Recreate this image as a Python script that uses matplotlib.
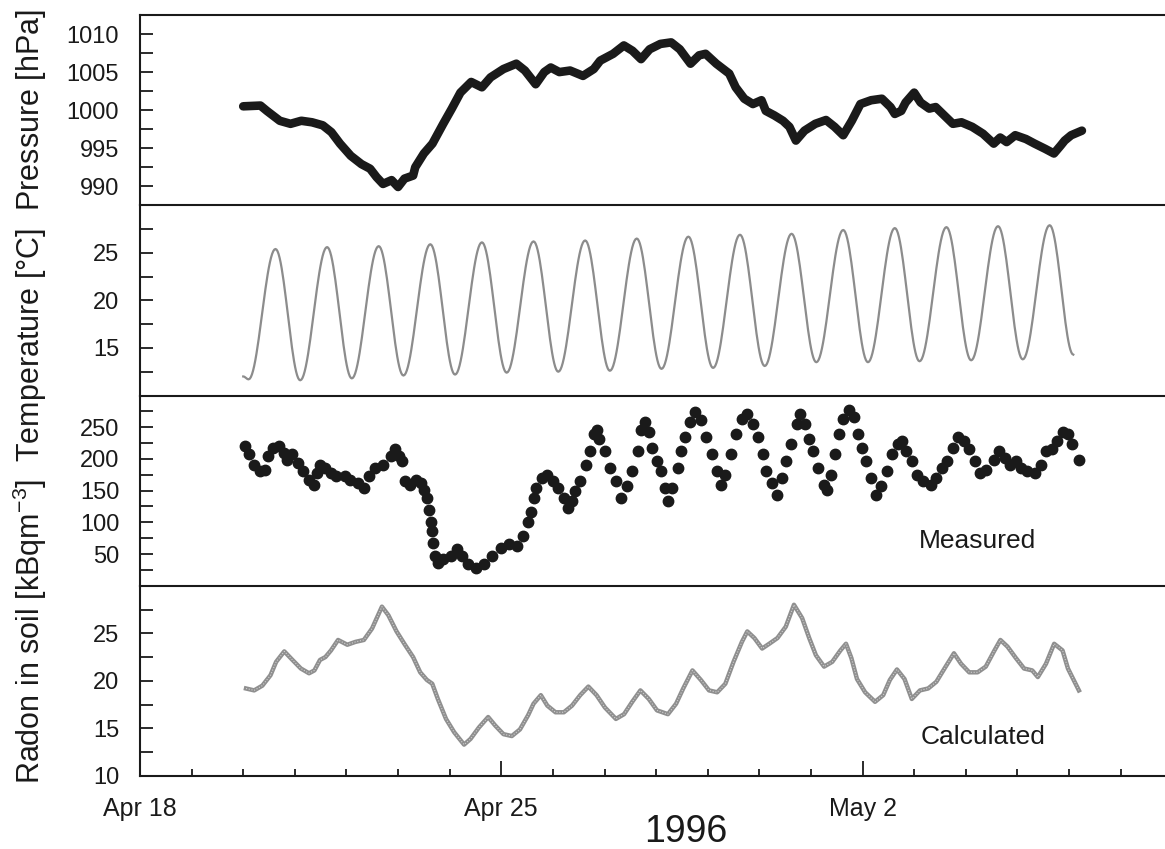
import numpy as np
import pandas as pd
import matplotlib
matplotlib.use("Agg")
import matplotlib.pyplot as plt
from matplotlib.ticker import MultipleLocator, FixedLocator

plt.rcParams['font.family'] = ['Liberation Sans', 'DejaVu Sans']
plt.rcParams['mathtext.fontset'] = 'custom'
plt.rcParams['mathtext.rm'] = 'Liberation Sans'
plt.rcParams['mathtext.it'] = 'Liberation Sans:italic'

INK = '#1a1a1a'
GREY = '#8c8c8c'

START = pd.Timestamp('1996-04-20')   # all series are given in hours after this

# air pressure [hPa]
pressure_hours = [0, 8, 11, 17, 22, 27, 32, 37, 41, 45, 50, 55, 59, 62, 65, 69, 72, 75, 79, 80,
                  84, 88, 93, 97, 101, 106, 111, 115, 121, 127, 131, 136, 140, 143, 147, 152, 158, 163, 166, 172,
                  177, 181, 185, 189, 194, 199, 203, 208, 212, 215, 220, 226, 229, 233, 237, 241, 243, 247, 251, 254,
                  257, 261, 266, 271, 275, 279, 283, 287, 292, 297, 301, 303, 306, 308, 312, 315, 319, 322, 326, 330,
                  334, 339, 344, 349, 352, 355, 359, 364, 368, 373, 377, 380, 382, 385, 390]
pressure_hpa = [1000.5, 1000.6, 999.9, 998.6, 998.2, 998.6, 998.4, 998.0, 997.1, 995.6,
                994.0, 992.9, 992.3, 991.2, 990.3, 990.8, 989.9, 991.0, 991.4, 992.5,
                994.3, 995.6, 998.2, 1000.2, 1002.3, 1003.7, 1003.0, 1004.3, 1005.4, 1006.1,
                1005.2, 1003.4, 1005.0, 1005.6, 1005.0, 1005.2, 1004.5, 1005.4, 1006.5, 1007.4,
                1008.5, 1007.8, 1006.7, 1008.0, 1008.7, 1008.9, 1008.0, 1006.1, 1007.2, 1007.4,
                1006.1, 1004.8, 1003.0, 1001.5, 1000.8, 1001.3, 999.9, 999.3, 998.6, 997.8,
                996.0, 997.3, 998.2, 998.7, 997.8, 996.7, 998.6, 1000.8, 1001.3, 1001.5,
                1000.4, 999.5, 999.9, 1001.0, 1002.3, 1001.0, 1000.2, 1000.4, 999.3, 998.2,
                998.4, 997.8, 996.9, 995.6, 996.4, 995.8, 996.7, 996.2, 995.6, 994.9,
                994.3, 995.3, 996.0, 996.7, 997.3]

# daily temperature extremes [°C]: minima around 02:30, maxima around 15:00
temp_low = [11.7, 11.6, 11.8, 12.1, 12.2, 12.4, 12.5, 12.6, 12.8, 12.9, 13.1, 13.5, 13.5, 13.6, 13.7, 13.8]
temp_high = [25.4, 25.6, 25.7, 25.9, 26.1, 26.2, 26.3, 26.5, 26.7, 26.9, 27.0, 27.4, 27.6, 27.7, 27.8, 27.9]
temp_first = (0.0, 12.0)
temp_last = (386.0, 14.3)

# measured radon in soil gas [kBq/m3]
radon_hours = [0.8, 2.5, 5.1, 7.6, 10.2, 11.5, 14.0, 16.6, 19.1, 20.4,
               22.9, 25.5, 28.0, 30.6, 33.1, 34.4, 35.7, 38.2, 40.8, 43.3,
               47.1, 49.7, 53.5, 56.1, 58.6, 61.2, 65.0, 68.8, 70.6, 72.6,
               73.9, 75.2, 77.7, 80.3, 82.8, 84.1, 85.4, 86.6, 87.4, 87.9,
               88.4, 89.2, 90.5, 93.0, 96.8, 99.4, 101.9, 104.5, 108.3, 112.1,
               115.9, 119.8, 123.6, 127.4, 129.9, 132.5, 133.8, 135.0, 136.3, 138.9,
               141.4, 144.0, 146.5, 149.1, 151.1, 152.9, 154.2, 156.7, 159.3, 161.3,
               163.1, 164.3, 165.6, 168.2, 170.7, 173.3, 175.8, 178.4, 180.9, 183.5,
               185.2, 186.8, 188.6, 190.3, 192.4, 194.4, 196.2, 197.5, 199.5, 202.1,
               203.8, 205.6, 207.7, 210.2, 212.8, 215.3, 217.9, 220.4, 222.4, 224.2,
               226.8, 229.3, 231.9, 234.4, 237.0, 239.5, 241.6, 243.3, 245.9, 248.4,
               250.5, 252.3, 254.8, 257.3, 259.1, 261.2, 263.2, 265.0, 267.5, 270.1,
               271.4, 273.4, 275.2, 277.0, 279.0, 281.6, 284.1, 286.1, 287.9, 289.7,
               291.7, 294.3, 296.8, 299.4, 301.9, 304.5, 306.5, 308.3, 310.9, 313.4,
               316.0, 319.8, 322.3, 324.9, 327.4, 330.0, 332.5, 335.1, 337.6, 340.2,
               342.7, 345.3, 349.1, 351.6, 354.2, 356.7, 359.3, 361.8, 364.4, 368.2,
               370.8, 373.3, 375.9, 378.4, 381.0, 383.5, 385.6, 388.6]
radon_kbq = [221, 207, 191, 181, 183, 205, 218, 221, 210, 199,
             207, 194, 181, 167, 159, 178, 191, 186, 178, 173,
             173, 167, 162, 154, 173, 186, 191, 205, 215, 205,
             197, 165, 159, 167, 162, 151, 138, 119, 101, 87,
             68, 47, 36, 42, 47, 58, 47, 34, 28, 34,
             47, 60, 66, 63, 79, 101, 117, 138, 154, 170,
             175, 165, 154, 138, 122, 133, 149, 165, 191, 213,
             239, 245, 231, 213, 186, 165, 138, 157, 181, 213,
             245, 258, 242, 218, 197, 181, 154, 133, 154, 186,
             213, 234, 258, 274, 261, 234, 207, 181, 159, 175,
             207, 239, 263, 271, 255, 234, 207, 181, 162, 143,
             170, 197, 223, 255, 271, 255, 231, 213, 186, 159,
             151, 175, 207, 239, 263, 277, 266, 239, 218, 197,
             170, 143, 157, 181, 207, 223, 229, 213, 197, 175,
             165, 159, 170, 186, 197, 218, 234, 229, 215, 197,
             178, 183, 199, 213, 202, 191, 197, 186, 181, 178,
             191, 213, 215, 229, 242, 239, 223, 199]

# model result [kBq/m3]
calc_hours = [1.3, 5.1, 8.9, 12.7, 15.3, 19.1, 22.9, 26.8, 30.6, 33.1,
              35.7, 38.2, 40.8, 44.1, 48.4, 52.2, 56.1, 59.9, 64.5, 67.5,
              71.3, 75.2, 79.0, 82.3, 85.4, 87.9, 90.5, 94.3, 98.1, 102.7,
              105.7, 109.6, 113.9, 117.2, 121.0, 124.9, 128.7, 132.5, 135.0, 138.4,
              141.4, 145.2, 149.1, 152.9, 156.7, 160.5, 164.3, 168.2, 173.3, 177.1,
              180.9, 184.7, 188.6, 192.4, 197.5, 201.3, 204.6, 208.9, 212.8, 216.6,
              220.4, 224.2, 228.0, 231.9, 234.4, 237.7, 241.3, 244.6, 248.4, 252.3,
              256.1, 259.9, 263.2, 266.3, 270.1, 273.9, 277.7, 280.3, 282.8, 285.4,
              289.2, 293.8, 297.6, 300.7, 304.0, 307.5, 310.9, 314.7, 318.5, 322.3,
              326.1, 330.5, 333.8, 337.6, 341.5, 345.3, 349.1, 352.1, 355.4, 359.3,
              363.1, 366.9, 369.5, 373.3, 377.1, 381.0, 383.5, 388.6]
calc_kbq = [19.2, 19.0, 19.5, 20.6, 22.0, 23.1, 22.2, 21.3, 20.8, 21.1,
            22.2, 22.5, 23.2, 24.3, 23.8, 24.1, 24.3, 25.5, 27.8, 26.9,
            25.2, 23.8, 22.5, 20.9, 20.1, 19.7, 18.1, 16.0, 14.6, 13.3,
            13.9, 15.1, 16.2, 15.3, 14.4, 14.2, 14.9, 16.4, 17.6, 18.5,
            17.4, 16.7, 16.7, 17.4, 18.5, 19.4, 18.5, 17.2, 16.0, 16.5,
            17.8, 19.0, 18.1, 16.9, 16.5, 17.6, 19.2, 21.1, 20.1, 19.0,
            18.8, 19.7, 22.0, 24.1, 25.2, 24.5, 23.4, 23.9, 24.5, 25.7,
            28.0, 26.6, 24.5, 22.7, 21.5, 22.0, 23.2, 23.9, 22.4, 20.2,
            18.8, 17.8, 18.5, 20.1, 21.2, 20.2, 18.1, 19.0, 19.2, 19.9,
            21.3, 22.9, 21.8, 20.9, 20.9, 21.5, 23.1, 24.3, 23.6, 22.4,
            21.3, 21.1, 20.4, 21.8, 23.9, 23.2, 21.3, 19.0]


def to_time(hours):
    return START + pd.to_timedelta(np.asarray(hours, dtype=float), unit='h')


def smooth_between(t_knots, v_knots, n=24):
    """Half-cosine strokes between successive extremes, for a rounded daily cycle."""
    ts, vs = [], []
    for t0, v0, t1, v1 in zip(t_knots[:-1], v_knots[:-1], t_knots[1:], v_knots[1:]):
        s = np.linspace(0.0, 1.0, n, endpoint=False)
        ts.append(t0 + s * (t1 - t0))
        vs.append(v0 + (v1 - v0) * (1 - np.cos(np.pi * s)) / 2)
    ts.append([t_knots[-1]])
    vs.append([v_knots[-1]])
    return np.concatenate(ts), np.concatenate(vs)


# knots of the temperature cycle in time order
t_knots = [temp_first[0]]
v_knots = [temp_first[1]]
for day, (lo, hi) in enumerate(zip(temp_low, temp_high)):
    t_knots += [24 * day + 2.5, 24 * day + 15.0]
    v_knots += [lo, hi]
t_knots.append(temp_last[0])
v_knots.append(temp_last[1])
temp_t, temp_v = smooth_between(t_knots, v_knots)

fig = plt.figure(figsize=(11.65, 8.49), dpi=100)
axes = fig.subplots(4, 1, sharex=True, gridspec_kw=dict(hspace=0))
fig.subplots_adjust(left=140 / 1165, right=1.0, top=1 - 15 / 849, bottom=1 - 776 / 849)
ax_p, ax_t, ax_m, ax_c = axes

ax_p.plot(to_time(pressure_hours), pressure_hpa, color=INK, lw=6.2,
          solid_capstyle='round', solid_joinstyle='round')
ax_t.plot(to_time(temp_t), temp_v, color=GREY, lw=1.6)
ax_m.plot(to_time(radon_hours), radon_kbq, 'o', color=INK, ms=7.5, mec=INK)
ax_c.plot(to_time(calc_hours), calc_kbq, color='#8f8f8f', lw=3.2)
ax_c.plot(to_time(calc_hours), calc_kbq, color='#d0d0d0', lw=0.8, ls=(0, (1, 1.5)))

ax_p.set_ylim(987.5, 1012.5)
ax_p.yaxis.set_major_locator(FixedLocator([990, 995, 1000, 1005, 1010]))
ax_p.yaxis.set_minor_locator(MultipleLocator(2.5))

ax_t.set_ylim(10, 30)
ax_t.yaxis.set_major_locator(FixedLocator([15, 20, 25]))
ax_t.yaxis.set_minor_locator(MultipleLocator(2.5))

ax_m.set_ylim(0, 300)
ax_m.yaxis.set_major_locator(FixedLocator([50, 100, 150, 200, 250]))
ax_m.yaxis.set_minor_locator(MultipleLocator(25))

ax_c.set_ylim(10, 30)
ax_c.yaxis.set_major_locator(FixedLocator([10, 15, 20, 25]))
ax_c.yaxis.set_minor_locator(MultipleLocator(2.5))

day0 = pd.Timestamp('1996-04-18')
ax_c.set_xlim(day0, day0 + pd.Timedelta(days=19.86))
major_days = [pd.Timestamp('1996-04-18'), pd.Timestamp('1996-04-25'), pd.Timestamp('1996-05-02')]
ax_c.set_xticks(major_days, ['Apr 18', 'Apr 25', 'May 2'])
ax_c.set_xticks(pd.date_range(day0, periods=20, freq='D'), minor=True)

for i, ax in enumerate(axes):
    ax.set_facecolor('none')
    ax.spines['right'].set_visible(False)
    ax.spines['bottom'].set_visible(ax is ax_c)
    for side in ('left', 'top', 'bottom'):
        ax.spines[side].set_linewidth(1.5)
        ax.spines[side].set_color(INK)
    ax.tick_params(axis='y', which='both', direction='in', length=9, width=1.3,
                   labelsize=17, pad=15, colors=INK)
    if ax is not ax_c:
        ax.tick_params(axis='x', which='both', bottom=False, labelbottom=False)

ax_c.tick_params(axis='x', which='major', direction='in', length=11, width=1.3,
                 labelsize=18, pad=15, colors=INK)
ax_c.tick_params(axis='x', which='minor', direction='in', length=5, width=1.3, colors=INK)

ax_m.text(0.8166, 0.237, 'Measured', transform=ax_m.transAxes, ha='center', va='center',
          fontsize=19, color=INK)
ax_c.text(0.8224, 0.203, 'Calculated', transform=ax_c.transAxes, ha='center', va='center',
          fontsize=19, color=INK)

fig.text(30 / 1165, 1 - 397 / 849,
         'Radon in soil [kBqm$^{-3}$]  Temperature [°C]  Pressure [hPa]',
         rotation=90, ha='center', va='center', fontsize=22, color=INK)
fig.text(686 / 1165, 1 - 832 / 849, '1996', ha='center', va='center', fontsize=27, color=INK)

fig.savefig('out.png', dpi=100, facecolor='white')
